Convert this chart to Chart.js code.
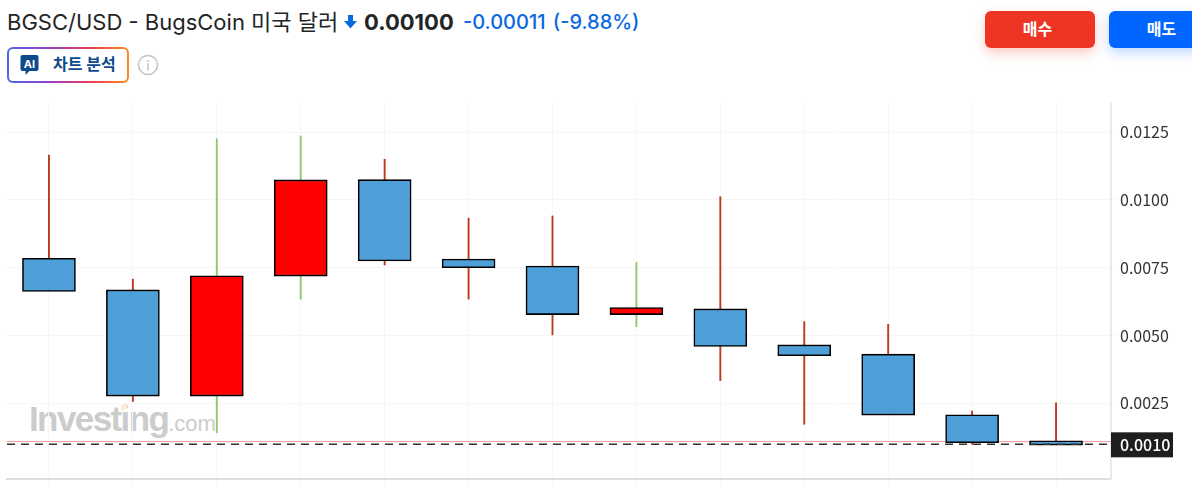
<!DOCTYPE html>
<html lang="ko">
<head>
<meta charset="utf-8">
<title>BGSC/USD</title>
<script src="https://cdn.jsdelivr.net/npm/chart.js@4"></script>
<style>
  html, body { margin: 0; padding: 0; background: #fff; }
  body { width: 1192px; height: 485px; overflow: hidden; position: relative; font-family: Inter, "Noto Sans CJK KR", sans-serif; }
  .abs { position: absolute; white-space: nowrap; }
  #title { left: 7px; top: 9px; font-size: 22px; line-height: 26px; color: #232526; }
  #price { left: 364px; top: 9px; font-size: 22px; line-height: 26px; font-weight: 700; color: #232526; }
  #change { left: 463px; top: 9px; font-size: 20px; line-height: 26px; font-weight: 500; color: #0a69e0; word-spacing: 2px; }
  #arrow { left: 344px; top: 14px; }
  #aiBtn { left: 7px; top: 47px; width: 122px; height: 36px; box-sizing: border-box; border: 2px solid transparent; border-radius: 6px;
    background: linear-gradient(#fff, #fff) padding-box, linear-gradient(90deg, #4a68e8, #9a3fc8 35%, #ee3f50 70%, #ff8a1e) border-box; }
  #aiIcon { position: absolute; left: 11px; top: 6px; }
  #aiText { position: absolute; left: 44px; top: 5px; font-size: 16px; line-height: 20px; font-weight: 700; color: #0f4a8a; }
  #info { left: 137px; top: 54px; }
  .btn { top: 11px; width: 110px; height: 37px; border-radius: 6px; color: #fff; font-size: 16px; font-weight: 700; line-height: 37px; text-align: center; box-sizing: border-box; padding-right: 5px; }
  #buy { left: 985px; background: #ee3524; box-shadow: 0 5px 12px rgba(238,53,36,.25); }
  #sell { left: 1109px; background: #0066ff; box-shadow: 0 5px 12px rgba(0,102,255,.25); }
  #mark { left: 29px; top: 399px; font-family: "Liberation Sans", Arial, sans-serif; color: #cccccc; }
  #mark b { font-size: 35px; letter-spacing: -1.6px; line-height: 40px; }
  #mark span { font-size: 22px; line-height: 40px; }
  #markTip { left: 121px; top: 404px; width: 6px; height: 6px; background: #fdeccb; transform: skewY(-25deg); }
  #wrap { position: absolute; left: 0; top: 103px; width: 1192px; height: 382px; }
</style>
</head>
<body>
<div class="abs" id="title">BGSC/USD - BugsCoin 미국 달러</div>
<svg class="abs" id="arrow" width="13" height="15" viewBox="0 0 13 15"><path d="M4 1h5v6h4l-6.500 7.500L0 7h4z" fill="#0a69e0"/></svg>
<div class="abs" id="price">0.00100</div>
<div class="abs" id="change">-0.00011 (-9.88%)</div>
<div class="abs" id="aiBtn">
  <svg id="aiIcon" width="19" height="20" viewBox="0 0 18 20"><path d="M2 0h14a2 2 0 0 1 2 2v12a2 2 0 0 1-2 2H9l-4 4v-4H2a2 2 0 0 1-2-2V2a2 2 0 0 1 2-2z" fill="#0f4a8a"/><text x="9" y="12.500" text-anchor="middle" font-family="Inter" font-size="11" font-weight="700" fill="#fff">AI</text></svg>
  <div id="aiText">차트 분석</div>
</div>
<svg class="abs" id="info" width="22" height="22" viewBox="0 0 22 22"><circle cx="11" cy="11" r="9.500" fill="none" stroke="#c4c4c4" stroke-width="1.500"/><rect x="10.200" y="9.500" width="1.600" height="7" fill="#c4c4c4"/><rect x="10.200" y="6" width="1.600" height="2" fill="#c4c4c4"/></svg>
<div class="abs btn" id="buy">매수</div>
<div class="abs btn" id="sell">매도</div>
<div class="abs" id="mark"><b>Investing</b><span>.com</span></div>
<div class="abs" id="markTip"></div>
<div id="wrap"><canvas id="chart" width="1192" height="382"></canvas></div>

<script>
const candleIndex = [0, 1, 2, 3, 4, 5, 6, 7, 8, 9, 10, 11, 12];
const opens  = [0.00785, 0.00668, 0.00276, 0.00719, 0.01075, 0.00782, 0.00756, 0.00577, 0.00598, 0.00465, 0.00431, 0.00207, 0.00111];
const closes = [0.00662, 0.00276, 0.00720, 0.01074, 0.00775, 0.00750, 0.00577, 0.00603, 0.00459, 0.00425, 0.00206, 0.00104, 0.00095];
const highs  = [0.01166, 0.00708, 0.01226, 0.01236, 0.01150, 0.00933, 0.00941, 0.00770, 0.01012, 0.00551, 0.00541, 0.00221, 0.00251];
const lows   = [0.00665, 0.00256, 0.00141, 0.00634, 0.00760, 0.00634, 0.00502, 0.00532, 0.00333, 0.00172, 0.00209, 0.00098, 0.00098];
const yTickValues = [0.0025, 0.005, 0.0075, 0.01, 0.0125];
const lastPrice = 0.00098;
const lastOpen = 0.00108;

const X_MIN = -0.5;
const X_MAX = 12.655;

const UP_BODY = "#ff0000";
const DOWN_BODY = "#4e9fd7";
const UP_WICK = "#8ccb6e";
const DOWN_WICK = "#bd3a22";

// dark box with the last price on the right axis
const lastPriceTag = {
  id: "lastPriceTag",
  afterDraw(chart) {
    const ctx = chart.ctx;
    const y = chart.scales.y.getPixelForValue(lastPrice);
    ctx.save();
    ctx.fillStyle = "#1e1e1e";
    ctx.fillRect(1111, y - 12, 62, 25);
    ctx.fillStyle = "#fff";
    ctx.font = "500 16px 'Noto Sans CJK KR'";
    ctx.textBaseline = "middle";
    ctx.fillText(lastPrice.toFixed(4), 1120, y + 1);
    ctx.restore();
  }
};

new Chart(document.getElementById("chart"), {
  type: "bar",
  data: {
    datasets: [
      {
        label: "Body",
        order: 1,
        grouped: false,
        barThickness: 53,
        data: candleIndex.map(i => ({ x: i, y: [opens[i], closes[i]] })),
        backgroundColor: candleIndex.map(i => closes[i] > opens[i] ? UP_BODY : DOWN_BODY),
        borderColor: "#000",
        borderWidth: 1.6,
        borderSkipped: false
      },
      {
        label: "Wick",
        order: 2,
        grouped: false,
        barThickness: 1.25,
        data: candleIndex.map(i => ({ x: i, y: [lows[i], highs[i]] })),
        backgroundColor: candleIndex.map(i => closes[i] > opens[i] ? UP_WICK : DOWN_WICK)
      },
      {
        type: "line",
        label: "Last open",
        order: 3,
        data: [{ x: X_MIN, y: lastOpen }, { x: X_MAX, y: lastOpen }],
        borderColor: "#ff9a9a",
        borderWidth: 1,
        pointRadius: 0
      },
      {
        type: "line",
        label: "Last price",
        order: 0,
        data: [{ x: X_MIN, y: lastPrice }, { x: X_MAX, y: lastPrice }],
        borderColor: "#333",
        borderWidth: 1.5,
        borderDash: [8, 6],
        pointRadius: 0
      }
    ]
  },
  options: {
    responsive: false,
    animation: false,
    layout: { padding: { left: 7 } },
    plugins: { legend: { display: false }, tooltip: { enabled: false } },
    scales: {
      x: {
        type: "linear",
        offset: false,
        min: X_MIN,
        max: X_MAX,
        afterBuildTicks: axis => { axis.ticks = candleIndex.map(v => ({ value: v })); },
        afterFit: axis => { axis.height = 6; axis.paddingLeft = 0; axis.paddingRight = 0; },
        ticks: { display: false },
        grid: { offset: false, color: "#f6f6f6", lineWidth: 1, tickLength: 6 },
        border: { color: "#dedede", width: 2 }
      },
      y: {
        position: "right",
        min: -0.0003,
        max: 0.01358,
        afterBuildTicks: axis => { axis.ticks = yTickValues.map(v => ({ value: v })); },
        afterFit: axis => { axis.width = 81; axis.paddingTop = 0; axis.paddingBottom = 0; },
        ticks: {
          color: "#333",
          padding: 4,
          font: { family: "'Noto Sans CJK KR'", size: 16 },
          callback: v => v.toFixed(4)
        },
        grid: { color: "#f6f6f6", lineWidth: 1, tickLength: 5 },
        border: { color: "#e8e8f0", width: 2 }
      }
    }
  },
  plugins: [lastPriceTag]
});
</script>
</body>
</html>
